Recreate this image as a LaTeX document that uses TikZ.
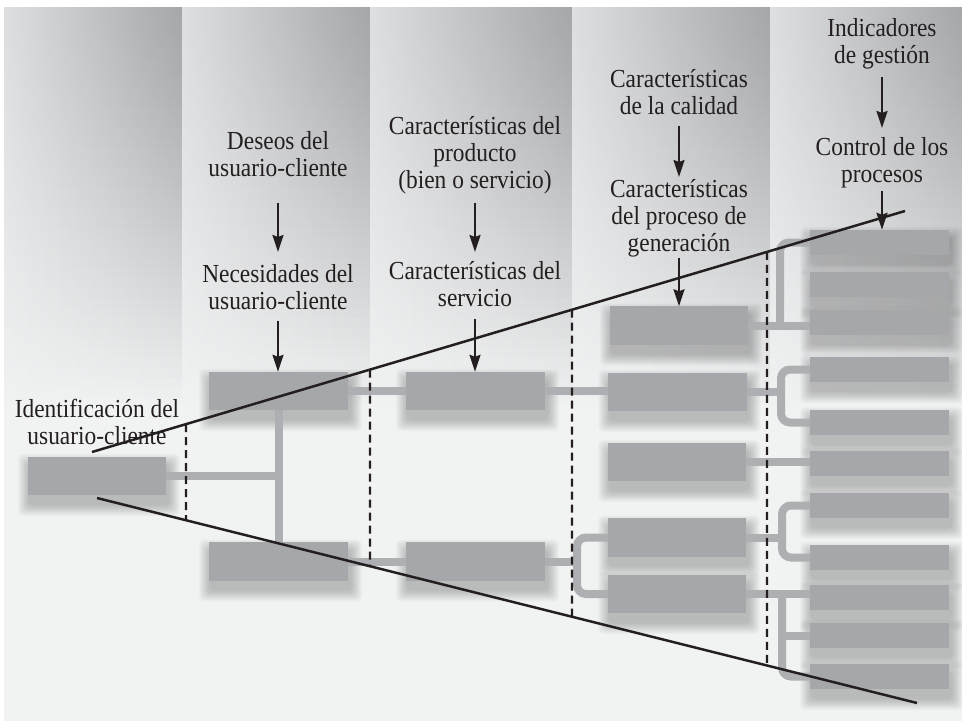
\documentclass[tikz,border=0pt]{standalone}
\usepackage{fontspec}
\setmainfont{Liberation Serif}[FakeStretch=0.9]
\usetikzlibrary{arrows.meta,calc}

\definecolor{ink}{RGB}{35,31,32}
\definecolor{panel}{RGB}{241,242,242}
\definecolor{colL}{RGB}{222,223,225}
\definecolor{colR}{RGB}{166,167,170}
\definecolor{boxgray}{RGB}{166,167,170}
\definecolor{linkgray}{RGB}{174,175,178}

\tikzset{
  label/.style={text=ink, align=center, inner sep=0pt, anchor=north,
    font=\fontsize{26}{27}\selectfont},
  blk/.style={fill=boxgray, draw=none, inner sep=0pt, minimum width=139pt,
    minimum height=38pt},
  sblk/.style={blk, minimum height=25pt},
  link/.style={draw=linkgray, line width=8pt, rounded corners=9pt},
  arr/.style={draw=ink, line width=2.3pt, -{Stealth[length=17pt,width=11pt,inset=2pt]}},
  funnel/.style={draw=ink, line width=2.5pt},
  cut/.style={draw=ink, line width=2.3pt, dash pattern=on 8pt off 5pt}
}

% soft drop shadow under a block: stacked translucent rectangles
\newcommand\softshadow[1]{%
  \foreach \k in {1,...,12}
    \fill[black, opacity=0.021, rounded corners=5pt]
      ($(#1.south west)+(2-\k,9+\k)$) rectangle ($(#1.north east)+(2+\k,9-\k)$);}

\begin{document}
\begin{tikzpicture}[x=1pt,y=-1pt]
\useasboundingbox (0,0) rectangle (962,725);
\fill[white] (0,0) rectangle (962,725);
\fill[panel] (4,8) rectangle (962,721);

% shaded column bands, fading into the panel further down
\foreach \a/\b in {4/182, 182/370, 370/572, 572/770, 770/962}
  \shade[left color=colL, right color=colR] (\a,8) rectangle (\b,408);
\foreach \i in {0,...,39} {
  \pgfmathsetmacro\op{((\i+0.5)/40)^1.3}
  \fill[panel, opacity=\op] (4,{8+\i*10}) rectangle (962,{18+\i*10});
}
\fill[panel] (4,406) rectangle (962,412);

% blocks
\node[blk, minimum width=138pt] (A) at (97,476) {};
\node[blk] (B1) at (278.5,391) {};
\node[blk] (B2) at (278.5,561.5) {};
\node[blk] (C1) at (475.5,391) {};
\node[blk] (C2) at (475.5,561.5) {};
\node[blk, minimum width=138pt] (D1) at (679,325.5) {};
\node[blk, minimum width=138pt] (D2) at (677.5,392) {};
\node[blk, minimum width=138pt] (D3) at (677,462) {};
\node[blk, minimum width=138pt] (D4) at (677,537.5) {};
\node[blk, minimum width=138pt] (D5) at (677,594) {};
\foreach \n/\y in {1/242.5, 2/284.5, 3/322.5, 4/369.5, 5/422.5, 6/463.5,
                   7/505.5, 8/557.5, 9/597.5, 10/635.5, 11/676.5}
  \node[sblk] (E\n) at (879.5,\y) {};

% shadows
\foreach \n in {A,B1,B2,C1,C2,D1,D2,D3,D4,D5,E1,E2,E3,E4,E5,E6,E7,E8,E9,E10,E11}
  {\softshadow{\n}}

% connectors between blocks
\coordinate (jB) at (278.5,476);
\coordinate (jC) at (577,564);
\coordinate (j1) at (780,325.5);
\coordinate (j2) at (781,392);
\coordinate (j4) at (782,537.5);
\coordinate (j5) at (782,594);
\draw[link] (A.east) -- (jB);
\draw[link] (B1.south) -- (B2.north);
\draw[link] (B1.east) -- (C1.west);
\draw[link] (B2.east) -- (C2.west);
\draw[link] (C1.east) -- (C1.east -| D2.west);
\draw[link] (C2.east) -- (C2.east -| jC);
\draw[link] (D4.west) -| (jC |- D5.west) -- (D5.west);
\draw[link] (D1.east) -- (D1.east -| E3.west);
\draw[link] (E1.west) -| (j1);
\draw[link] (D2.east) -- (j2);
\draw[link] (E4.west) -| (j2 |- E5.west) -- (E5.west);
\draw[link] (D3.east) -- (D3.east -| E6.west);
\draw[link] (D4.east) -- (j4);
\draw[link] (E7.west) -| (j4 |- E8.west) -- (E8.west);
\draw[link] (D5.east) -- (D5.east -| E9.west);
\draw[link] (E11.west) -| (j5);
\draw[link] (E10.west) -- (E10.west -| j5);

% block faces over shadows and connector ends
\foreach \n in {A,B1,B2,C1,C2,D1,D2,D3,D4,D5,E1,E2,E3,E4,E5,E6,E7,E8,E9,E10,E11}
  \fill[boxgray] (\n.south west) rectangle (\n.north east);

% labels
\node[label] (idn) at (97,399) {Identificación del\\usuario-cliente};
\node[label] (deseos) at (278,131) {Deseos del\\usuario-cliente};
\node[label] (neces) at (278,264) {Necesidades del\\usuario-cliente};
\node[label] (prod) at (475,116) {Características del\\producto\\(bien o servicio)};
\node[label] (serv) at (475,261) {Características del\\servicio};
\node[label] (cal) at (679,69) {Características\\de la calidad};
\node[label] (proc) at (679,179) {Características\\del proceso de\\generación};
\node[label] (ind) at (882,18) {Indicadores\\de gestión};
\node[label] (ctrl) at (882,137) {Control de los\\procesos};

% arrows
\draw[arr] ([yshift=-26pt]deseos.south) -- ([yshift=12pt]neces.north);
\draw[arr] ([yshift=-11pt]neces.south) -- (neces.south |- B1.north);
\draw[arr] ([yshift=-9pt]prod.south) -- ([yshift=9pt]serv.north);
\draw[arr] ([yshift=-12pt]serv.south) -- (serv.south |- C1.north);
\draw[arr] ([yshift=-11pt]cal.south) -- ([yshift=2pt]proc.north);
\draw[arr] ([yshift=-1pt]proc.south) -- (proc.south |- D1.north);
\draw[arr] ([yshift=-8pt]ind.south) -- ([yshift=9pt]ctrl.north);
\draw[arr] ([yshift=-3pt]ctrl.south) -- (ctrl.south |- E1.north);

% funnel outline and stage boundaries
\coordinate (u0) at (92,452);
\coordinate (u1) at (905,211);
\coordinate (l0) at (97,498);
\coordinate (l1) at (917,703);
\draw[funnel] (u0) -- (u1);
\draw[funnel] (l0) -- (l1);
\foreach \x in {186,370,572,767}
  \draw[cut] ($(u0)!{(\x-92)/813}!(u1)$) -- ($(l0)!{(\x-97)/820}!(l1)$);
\end{tikzpicture}
\end{document}
